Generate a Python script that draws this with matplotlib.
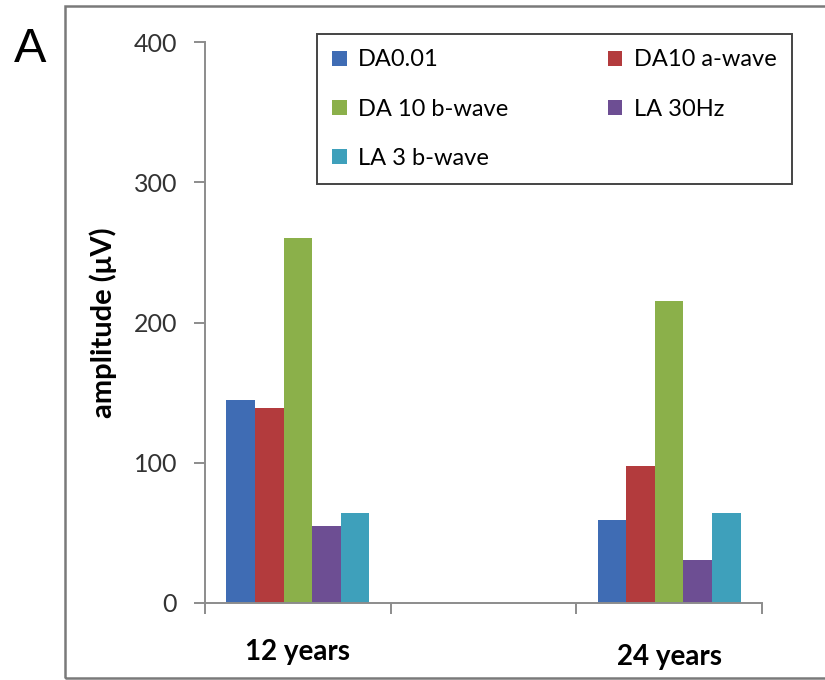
import matplotlib.pyplot as plt
import matplotlib.transforms as mtransforms
from matplotlib.patches import Rectangle
import numpy as np

# values (amplitude in microvolts)
groups = ["12 years", "", "24 years"]
series = ["DA0.01", "DA10 a-wave", "DA 10 b-wave", "LA 30Hz", "LA 3 b-wave"]
da001 = [145, 0, 59]
da10_a = [139, 0, 98]
da10_b = [260, 0, 215]
la30 = [55, 0, 31]
la3_b = [64, 0, 64]
colors = ["#3F6CB4", "#B33B3D", "#8BB04A", "#6D4E93", "#3EA0BB"]

plt.rcParams['font.family'] = ['Lato', 'DejaVu Sans']

fig = plt.figure(figsize=(8.25, 6.8), dpi=100)
ax = fig.add_axes([205/825, 1 - 603/680, (762 - 205)/825, (603 - 42)/680])

x = np.arange(len(groups))
w = 0.154
bars = []
for i, (vals, c, name) in enumerate(zip([da001, da10_a, da10_b, la30, la3_b], colors, series)):
    # the empty middle category has no bars
    xs = [xi + (i - 2) * w for xi, g in zip(x, groups) if g]
    vs = [v for v, g in zip(vals, groups) if g]
    bars.append(ax.bar(xs, vs, width=w, color=c, label=name, zorder=2))

ax.set_xlim(-0.5, 2.5)
ax.set_ylim(0, 400)
ax.set_yticks([0, 100, 200, 300, 400])

# ticks at category boundaries, labels at category centres
ax.set_xticks([-0.5, 0.5, 1.5, 2.5])
ax.set_xticklabels([])
ax.set_xticks(x[[0, 2]], minor=True)
ax.set_xticklabels([groups[0], groups[2]], minor=True, fontsize=20, fontweight='bold')
ax.tick_params(axis='x', which='minor', length=0, pad=26)
ax.tick_params(axis='x', which='major', length=8, width=1.4, color='#8c8c8c')
ax.tick_params(axis='y', length=8, width=1.4, color='#8c8c8c', labelsize=18,
               pad=12, labelcolor='#333333')
lbl = ax.get_xticklabels(minor=True)[1]
lbl.set_transform(lbl.get_transform() + mtransforms.ScaledTranslation(0, -5/100, fig.dpi_scale_trans))

for s in ['top', 'right']:
    ax.spines[s].set_visible(False)
for s in ['left', 'bottom']:
    ax.spines[s].set_color('#8c8c8c')
    ax.spines[s].set_linewidth(1.4)

fig.text(103/825, 1 - 323/680, "amplitude (μV)", rotation=90, ha='center', va='center',
         fontsize=21, fontweight='bold')

# legend filled row by row, as in the original
order = [0, 2, 4, 1, 3]
leg = ax.legend([bars[k] for k in order], [series[k] for k in order],
                ncol=2, loc='upper left', bbox_to_anchor=(317/825, 1 - 34/680, 475/825, 0),
                bbox_transform=fig.transFigure, mode='expand', fontsize=17,
                handlelength=0.6, handleheight=0.6, handletextpad=0.5,
                columnspacing=1.5, labelspacing=1.2, borderpad=0.65, borderaxespad=0,
                fancybox=False, framealpha=1, edgecolor='#444444')
leg.get_frame().set_linewidth(1.4)

fig.text(30/825, 1 - 50/680, "A", fontsize=35, ha='center', va='center',
         family=['Liberation Sans', 'DejaVu Sans'])

# panel frame
fig.add_artist(Rectangle((65/825, 1 - 678/680), 1.0, 672/680, transform=fig.transFigure,
                         fill=False, edgecolor='#7a7a7a', linewidth=1.8))

fig.savefig("out.png", dpi=100)
